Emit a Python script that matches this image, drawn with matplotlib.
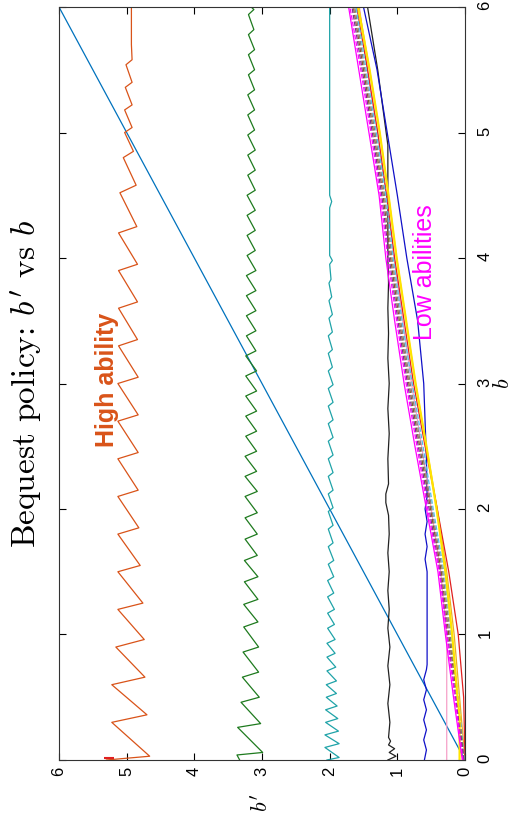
import matplotlib
matplotlib.use('Agg')
import matplotlib.pyplot as plt

plt.rcParams['font.family'] = 'Liberation Sans'
plt.rcParams['mathtext.fontset'] = 'cm'

# chart is drawn turned a quarter turn: b' runs right-to-left, b runs upward
b_grid = [0, 0.5, 1, 1.5, 2, 2.5, 3, 3.5, 4, 4.5, 5, 5.5, 6]

# 45 degree line
diag_b = [0, 6]
diag_v = [0, 6]

# high ability (orange sawtooth)
orange_b = [0.00, 0.03, 0.30, 0.36, 0.60, 0.66, 0.90, 0.96, 1.20, 1.25, 1.50, 1.55,
            1.80, 1.85, 2.10, 2.15, 2.40, 2.45, 2.70, 2.75, 3.00, 3.05, 3.30, 3.35,
            3.60, 3.65, 3.90, 3.95, 4.20, 4.25, 4.52, 4.58, 4.80, 4.85, 5.00, 5.04,
            5.18, 5.22, 5.36, 5.40, 5.54, 5.58, 5.70, 6.00]
orange_v = [5.30, 4.66, 5.22, 4.70, 5.22, 4.73, 5.16, 4.74, 5.13, 4.76, 5.13, 4.80,
            5.13, 4.82, 5.13, 4.83, 5.13, 4.83, 5.13, 4.83, 5.13, 4.83, 5.12, 4.84,
            5.12, 4.84, 5.12, 4.84, 5.12, 4.85, 5.10, 4.86, 5.05, 4.90, 5.03, 4.92,
            5.03, 4.92, 5.02, 4.92, 5.01, 4.92, 4.93, 4.93]
red_b = [0.015, 0.015]
red_v = [5.34, 5.18]

# green sawtooth
green_b = [0.00, 0.04, 0.06, 0.26, 0.29, 0.46, 0.50, 0.66, 0.70, 0.86, 0.90, 1.06,
           1.10, 1.24, 1.28, 1.42, 1.46, 1.59, 1.63, 1.76, 1.80, 1.93, 1.97, 2.10,
           2.14, 2.26, 2.30, 2.42, 2.46, 2.58, 2.62, 2.74, 2.78, 2.90, 2.94, 3.06,
           3.10, 3.22, 3.26, 3.38, 3.42, 3.54, 3.58, 3.70, 3.74, 3.86, 3.90, 4.02,
           4.06, 4.18, 4.22, 4.34, 4.38, 4.50, 4.54, 4.66, 4.70, 4.82, 4.86, 4.98,
           5.02, 5.14, 5.18, 5.30, 5.34, 5.46, 5.50, 5.62, 5.66, 5.78, 5.82, 5.94,
           5.98, 6.00]
green_v = [3.33, 3.37, 2.99, 3.36, 3.02, 3.31, 3.04, 3.29, 3.05, 3.28, 3.05, 3.27,
           3.06, 3.27, 3.06, 3.26, 3.06, 3.26, 3.07, 3.25, 3.07, 3.25, 3.07, 3.25,
           3.07, 3.25, 3.08, 3.25, 3.08, 3.24, 3.08, 3.24, 3.08, 3.24, 3.08, 3.24,
           3.08, 3.24, 3.09, 3.23, 3.09, 3.23, 3.09, 3.23, 3.09, 3.23, 3.09, 3.22,
           3.10, 3.22, 3.10, 3.22, 3.10, 3.22, 3.10, 3.21, 3.10, 3.21, 3.10, 3.21,
           3.11, 3.21, 3.11, 3.21, 3.11, 3.20, 3.11, 3.20, 3.11, 3.20, 3.12, 3.20,
           3.12, 3.16]

# cyan sawtooth
cyan_b = [0.00, 0.02, 0.10, 0.13, 0.20, 0.23, 0.30, 0.33, 0.40, 0.43, 0.50, 0.53,
          0.60, 0.63, 0.71, 0.74, 0.82, 0.85, 0.93, 0.96, 1.05, 1.08, 1.17, 1.20,
          1.30, 1.33, 1.43, 1.46, 1.56, 1.59, 1.70, 1.73, 1.84, 1.87, 1.98, 2.01,
          2.12, 2.15, 2.26, 2.29, 2.40, 2.43, 2.54, 2.57, 2.68, 2.71, 2.82, 2.85,
          2.96, 2.99, 3.10, 3.13, 3.24, 3.27, 3.38, 3.41, 3.52, 3.55, 3.66, 3.69,
          3.80, 3.83, 3.95, 3.98, 4.02, 4.40, 4.45, 4.50, 6.00]
cyan_v = [2.04, 1.86, 2.07, 1.86, 2.07, 1.87, 2.06, 1.88, 2.06, 1.89, 2.05, 1.90,
          2.05, 1.90, 2.04, 1.91, 2.04, 1.92, 2.04, 1.92, 2.03, 1.93, 2.03, 1.93,
          2.03, 1.94, 2.03, 1.94, 2.02, 1.94, 2.02, 1.95, 2.02, 1.95, 2.02, 1.95,
          2.02, 1.95, 2.02, 1.95, 2.02, 1.95, 2.02, 1.95, 2.02, 1.95, 2.02, 1.95,
          2.02, 1.95, 2.02, 1.96, 2.02, 1.96, 2.02, 1.96, 2.01, 1.96, 2.01, 1.97,
          2.01, 1.98, 2.00, 1.96, 2.00, 2.00, 1.97, 2.00, 2.00]

# black: flat then joins the bundle
black_b = [0.00, 0.03, 0.06, 0.09, 0.12, 0.15, 0.18, 0.30, 0.45, 0.60, 0.75, 0.90,
           1.05, 1.20, 1.35, 1.50, 1.65, 1.80, 1.95, 2.05, 2.12, 2.20, 2.40, 2.60,
           2.80, 3.00, 3.20, 3.40, 3.60, 3.80, 4.00, 4.90, 5.50, 6.00]
black_v = [1.14, 1.02, 1.12, 1.04, 1.13, 1.10, 1.13, 1.11, 1.14, 1.11, 1.14, 1.11,
           1.14, 1.12, 1.14, 1.12, 1.14, 1.12, 1.13, 1.17, 1.17, 1.13, 1.14, 1.12,
           1.14, 1.12, 1.14, 1.13, 1.14, 1.13, 1.14, 1.14, 1.29, 1.44]

# navy: flat then joins the bundle
navy_b = [0.00, 0.08, 0.16, 0.24, 0.32, 0.40, 0.48, 0.56, 0.64, 0.72, 0.76, 1.50,
          1.60, 1.70, 1.80, 1.90, 2.00, 2.10, 2.40, 3.00, 3.50, 4.00, 4.50, 5.00,
          5.50, 6.00]
navy_v = [0.60, 0.57, 0.61, 0.57, 0.61, 0.57, 0.61, 0.57, 0.61, 0.57, 0.56, 0.56,
          0.59, 0.56, 0.59, 0.56, 0.59, 0.56, 0.57, 0.61, 0.70, 0.86, 1.00, 1.15,
          1.30, 1.50]

pink_b = [0, 1.0, 1.5, 2, 2.5, 3, 3.5, 4, 4.5, 5, 5.5, 6]
pink_v = [0.27, 0.27, 0.36, 0.50, 0.64, 0.79, 0.92, 1.05, 1.16, 1.29, 1.44, 1.56]

yellow_b = [0, 0.35, 0.5, 1, 1.5, 2, 2.5, 3, 3.5, 4, 4.5, 5, 5.5, 6]
yellow_v = [0.08, 0.08, 0.11, 0.19, 0.29, 0.42, 0.57, 0.73, 0.87, 1.01, 1.13, 1.26, 1.41, 1.58]

# the low-ability bundle, all on b_grid
magenta_v = [0.04, 0.17, 0.29, 0.40, 0.57, 0.74, 0.90, 1.04, 1.17, 1.27, 1.42, 1.57, 1.72]
magenta_d_v = [0.03, 0.15, 0.27, 0.38, 0.55, 0.71, 0.87, 1.01, 1.14, 1.25, 1.39, 1.54, 1.70]
purple_v = [0.02, 0.14, 0.26, 0.37, 0.53, 0.69, 0.85, 0.99, 1.12, 1.23, 1.37, 1.52, 1.67]
brown_v = [0.02, 0.12, 0.24, 0.35, 0.51, 0.67, 0.83, 0.97, 1.10, 1.21, 1.35, 1.50, 1.65]
grey_v = [0.01, 0.11, 0.22, 0.33, 0.49, 0.65, 0.81, 0.95, 1.08, 1.19, 1.33, 1.48, 1.63]
ltblue_v = [0.01, 0.10, 0.20, 0.31, 0.47, 0.62, 0.78, 0.93, 1.06, 1.17, 1.31, 1.46, 1.61]
ltorange_v = [0.00, 0.08, 0.16, 0.27, 0.41, 0.57, 0.73, 0.87, 1.01, 1.13, 1.26, 1.41, 1.57]
red_low_v = [0.00, 0.02, 0.10, 0.24, 0.41, 0.59, 0.76, 0.90, 1.04, 1.16, 1.29, 1.44, 1.60]

fig = plt.figure(figsize=(5.24, 8.25), dpi=100)
ax = fig.add_axes([0.1126, 0.0788, 0.7748, 0.9127])

lw = 0.9
ax.plot(diag_v, diag_b, color='#0072BD', lw=lw)
ax.plot(orange_v, orange_b, color='#D95319', lw=lw)
ax.plot(red_v, red_b, color='#E02020', lw=1.5, solid_capstyle='butt')
ax.plot(green_v, green_b, color='#1E7A1E', lw=lw)
ax.plot(cyan_v, cyan_b, color='#1FA3A8', lw=lw)
ax.plot(black_v, black_b, color='#222222', lw=lw)
ax.plot(navy_v, navy_b, color='#1010C8', lw=lw)
ax.plot(pink_v, pink_b, color='#F5A0C8', lw=lw)
ax.plot(ltorange_v, b_grid, color='#EDB120', lw=lw)
ax.plot(red_low_v, b_grid, color='#E02020', lw=lw)
ax.plot(ltblue_v, b_grid, color='#4DBEEE', lw=lw, ls='--')
ax.plot(grey_v, b_grid, color='#808080', lw=lw, ls='--')
ax.plot(brown_v, b_grid, color='#8B5A2B', lw=lw, ls='--')
ax.plot(yellow_v, yellow_b, color='#FFE400', lw=1.6)
ax.plot(purple_v, b_grid, color='#7E2F8E', lw=lw, ls='--')
ax.plot(magenta_d_v, b_grid, color='#FF00FF', lw=lw, ls='--')
ax.plot(magenta_v, b_grid, color='#FF00FF', lw=lw)

ax.set_xlim(6, 0)
ax.set_ylim(0, 6)
ax.set_xticks(range(7))
ax.set_yticks(range(7))
ax.tick_params(axis='x', direction='in', top=True, length=5, width=0.8,
               labelsize=12, labelrotation=90, pad=5)
ax.tick_params(axis='y', direction='in', left=True, right=True, length=5, width=0.8,
               labelleft=False, labelright=True, labelsize=12, labelrotation=90, pad=9)
for s in ax.spines.values():
    s.set_color('#333333')
    s.set_linewidth(0.8)

ax.text(5.29, 3.03, 'High ability', color='#D95319', fontsize=18, fontweight='bold',
        rotation=90, ha='center', va='center')
ax.text(0.59, 3.89, 'Low abilities', color='#FF00FF', fontsize=18,
        rotation=90, ha='center', va='center')

fig.text(0.052, 0.535, r"Bequest policy: $b'$ vs $b$", family='cmr10',
         fontsize=24, rotation=90, ha='center', va='center')
fig.text(0.5, 0.027, r"$b'$", fontsize=16, rotation=90, ha='center', va='center')
fig.text(0.961, 0.535, r"$b$", fontsize=16, rotation=90, ha='center', va='center')

fig.savefig('out.png', dpi=100)
